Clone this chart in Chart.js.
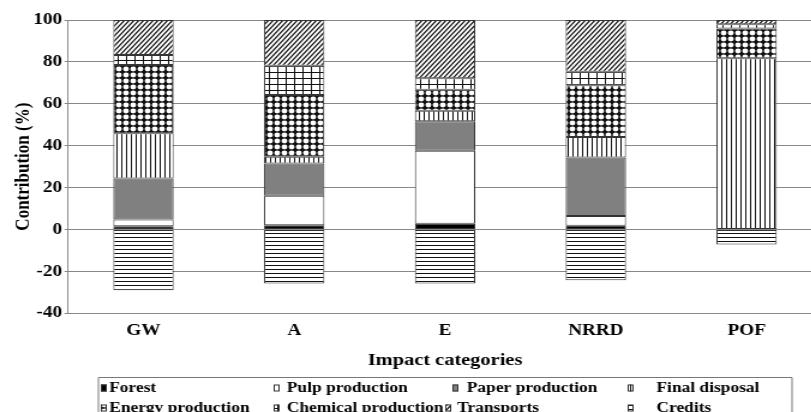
<!DOCTYPE html>
<html>
<head>
<meta charset="utf-8">
<script src="https://cdn.jsdelivr.net/npm/chart.js@4.4.0/dist/chart.umd.min.js"></script>
<style>
  html, body { margin: 0; padding: 0; background: #fff; overflow: hidden; }
  /* the source figure is a bit stretched sideways */
  #wrap { width: 685px; height: 412px; transform: scaleX(1.2); transform-origin: 0 0; }
</style>
</head>
<body>
<div id="wrap"><canvas id="myChart" width="685" height="412"></canvas></div>
<script>
const categories = ["GW", "A", "E", "NRRD", "POF"];
const forest = [1.5, 2, 2.8, 1.8, 0];
const pulp = [3.3, 14.1, 34.8, 4.6, 0];
const paper = [19.6, 15.4, 14.1, 28, 0];
const finalDisposal = [21.5, 3.2, 5, 9.8, 81.7];
const energy = [32.6, 29.5, 10, 24.7, 14.3];
const chemical = [4.8, 14, 5.5, 6.4, 2];
const transports = [16.7, 21.8, 27.8, 24.7, 2];
const credits = [-29, -25.8, -25.8, -24.2, -7.2];
const yTicks = [-40, -20, 0, 20, 40, 60, 80, 100];

const ctx = document.getElementById("myChart").getContext("2d");
Chart.defaults.font.family = '"Liberation Serif", "Times New Roman", serif';
Chart.defaults.color = '#000';

function makePattern(w, h, draw) {
  const c = document.createElement('canvas');
  c.width = w;
  c.height = h;
  const g = c.getContext('2d');
  g.fillStyle = '#fff';
  g.fillRect(0, 0, w, h);
  g.fillStyle = '#111';
  g.strokeStyle = '#111';
  draw(g, w, h);
  return ctx.createPattern(c, 'repeat');
}

const vertLines = makePattern(4, 4, g => g.fillRect(1, 0, 1, 4));
const horizLines = makePattern(4, 4, g => g.fillRect(0, 1, 4, 1));
const gridLines = makePattern(7, 6, g => { g.fillRect(0, 0, 7, 1); g.fillRect(0, 0, 1, 6); });
const dots = makePattern(6, 6, g => {
  g.fillRect(0, 0, 6, 6);
  g.fillStyle = '#fff';
  g.beginPath();
  g.arc(3, 3, 2.4, 0, Math.PI * 2);
  g.fill();
});
const diagonal = makePattern(4, 5, g => {
  g.lineWidth = 1.2;
  g.beginPath();
  g.moveTo(-1, 6.25); g.lineTo(5, -1.25);
  g.moveTo(-5, 6.25); g.lineTo(1, -1.25);
  g.moveTo(3, 6.25); g.lineTo(9, -1.25);
  g.stroke();
});

function series(label, data, fill) {
  return {
    label: label,
    data: data,
    backgroundColor: fill,
    borderColor: '#333',
    borderWidth: 1,
    borderSkipped: false
  };
}

// excel-like boxed legend, 4 columns x 2 rows
const boxLegend = {
  id: 'boxLegend',
  afterDraw(chart) {
    const c = chart.ctx;
    const iconX = [[84, 228, 377, 523], [84, 228, 371, 523]];
    const textX = [[91, 239, 389, 547], [91, 239, 381, 547]];
    const rowY = [388, 408];
    c.save();
    c.strokeStyle = '#777';
    c.lineWidth = 1;
    c.beginPath();
    c.moveTo(82, 420); c.lineTo(82, 377.5); c.lineTo(660, 377.5); c.lineTo(660, 420);
    c.stroke();
    c.font = 'bold 14.5px "Liberation Serif", serif';
    c.textBaseline = 'middle';
    chart.data.datasets.forEach((ds, i) => {
      const col = i % 4, row = Math.floor(i / 4);
      const y = rowY[row];
      const ix = iconX[row][col];
      c.fillStyle = ds.backgroundColor;
      c.fillRect(ix, y - 3.5, 5, 7);
      c.strokeStyle = '#333';
      c.strokeRect(ix + 0.5, y - 3, 4, 6);
      c.fillStyle = '#000';
      c.fillText(ds.label, textX[row][col], y);
    });
    c.restore();
  }
};

new Chart(ctx, {
  type: 'bar',
  data: {
    labels: categories,
    datasets: [
      series("Forest", forest, '#000'),
      series("Pulp production", pulp, '#fff'),
      series("Paper production", paper, '#808080'),
      series("Final disposal", finalDisposal, vertLines),
      series("Energy production", energy, dots),
      series("Chemical production", chemical, gridLines),
      series("Transports", transports, diagonal),
      series("Credits", credits, horizLines)
    ]
  },
  options: {
    responsive: false,
    animation: false,
    layout: { padding: { top: 20, right: 0, bottom: 40.7, left: 0 } },
    datasets: { bar: { barPercentage: 0.4, categoryPercentage: 1 } },
    scales: {
      x: {
        stacked: true,
        grid: { display: false },
        border: { display: false },
        ticks: { font: { size: 16, weight: 'bold' }, padding: 0 },
        title: {
          display: true,
          text: 'Impact categories',
          font: { size: 17, weight: 'bold' },
          padding: { top: 0, bottom: 0 }
        },
        afterFit: scale => { scale.height = 58; }
      },
      y: {
        stacked: true,
        min: -40,
        max: 100,
        afterBuildTicks: scale => { scale.ticks = yTicks.map(v => ({ value: v })); },
        grid: { color: '#888', tickLength: 3 },
        border: { color: '#888' },
        ticks: { font: { size: 16, weight: 'bold' }, padding: 2 },
        title: {
          display: true,
          text: 'Contribution (%)',
          font: { size: 17, weight: 'bold' },
          padding: { top: 9, bottom: 0 }
        },
        afterFit: scale => { scale.width = 56.7; }
      }
    },
    plugins: {
      legend: { display: false },
      tooltip: { enabled: false }
    }
  },
  plugins: [boxLegend]
});
</script>
</body>
</html>
